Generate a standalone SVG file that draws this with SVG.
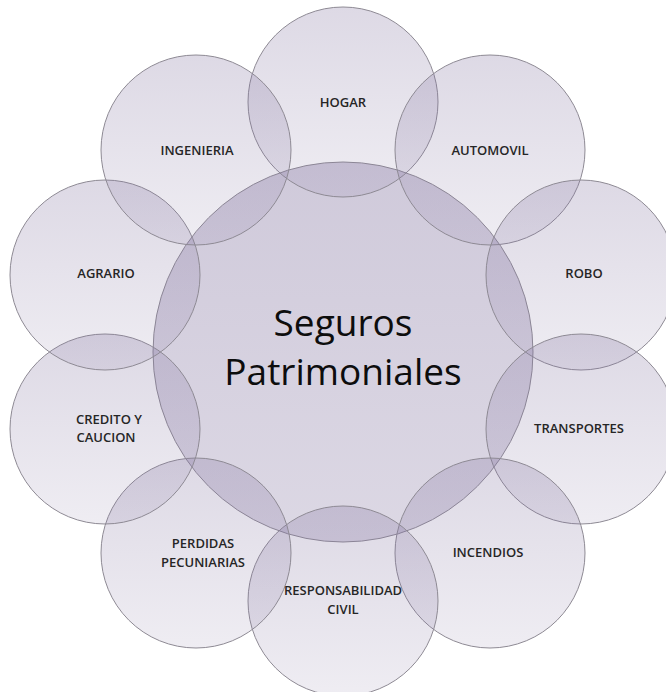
<svg xmlns="http://www.w3.org/2000/svg" width="666" height="692" viewBox="0 0 666 692">
  <defs>
    <linearGradient id="gOuter" x1="0" y1="0" x2="0" y2="1">
      <stop offset="0" stop-color="#82739f" stop-opacity="0.27"/>
      <stop offset="1" stop-color="#82739f" stop-opacity="0.13"/>
    </linearGradient>
    <linearGradient id="gCenter" x1="0" y1="0" x2="0" y2="1">
      <stop offset="0" stop-color="#82739f" stop-opacity="0.38"/>
      <stop offset="1" stop-color="#82739f" stop-opacity="0.28"/>
    </linearGradient>
  </defs>
  <style>
    .c { stroke: #8e8a94; stroke-width: 1; }
    .outer { fill: url(#gOuter); }
    .center { fill: url(#gCenter); }
    .lbl { font-family: "Open Sans", "Liberation Sans", sans-serif; font-size: 13px; font-weight: 600; fill: #262626; text-anchor: middle; }
    .big { font-family: "Open Sans", "Liberation Sans", sans-serif; font-size: 37px; fill: #0d0d0d; text-anchor: middle; }
  </style>
  <rect width="666" height="692" fill="#ffffff"/>
  <g id="connectors"></g>
  <g id="center-node">
    <circle class="c center" cx="343" cy="352" r="190"/>
  </g>
  <g id="hogar"><circle class="c outer" cx="343" cy="102" r="95"/></g>
  <g id="automovil"><circle class="c outer" cx="490" cy="150" r="95"/></g>
  <g id="robo"><circle class="c outer" cx="581" cy="275" r="95"/></g>
  <g id="transportes"><circle class="c outer" cx="581" cy="429" r="95"/></g>
  <g id="incendios"><circle class="c outer" cx="490" cy="553" r="95"/></g>
  <g id="responsabilidad"><circle class="c outer" cx="343" cy="601" r="95"/></g>
  <g id="perdidas"><circle class="c outer" cx="196" cy="553" r="95"/></g>
  <g id="credito"><circle class="c outer" cx="105" cy="429" r="95"/></g>
  <g id="agrario"><circle class="c outer" cx="105" cy="275" r="95"/></g>
  <g id="ingenieria"><circle class="c outer" cx="196" cy="150" r="95"/></g>
  <g id="labels">
    <text class="big" x="343" y="336">Seguros</text>
    <text class="big" x="343" y="385">Patrimoniales</text>
    <text class="lbl" x="343" y="107">HOGAR</text>
    <text class="lbl" x="490" y="155">AUTOMOVIL</text>
    <text class="lbl" x="584" y="278">ROBO</text>
    <text class="lbl" x="579" y="433">TRANSPORTES</text>
    <text class="lbl" x="488" y="557">INCENDIOS</text>
    <text class="lbl" x="343" y="595">RESPONSABILIDAD</text>
    <text class="lbl" x="343" y="614">CIVIL</text>
    <text class="lbl" x="203" y="548">PERDIDAS</text>
    <text class="lbl" x="203" y="567">PECUNIARIAS</text>
    <text class="lbl" x="109" y="424">CREDITO Y</text>
    <text class="lbl" x="106" y="442">CAUCION</text>
    <text class="lbl" x="106" y="278">AGRARIO</text>
    <text class="lbl" x="197" y="155">INGENIERIA</text>
  </g>
</svg>
